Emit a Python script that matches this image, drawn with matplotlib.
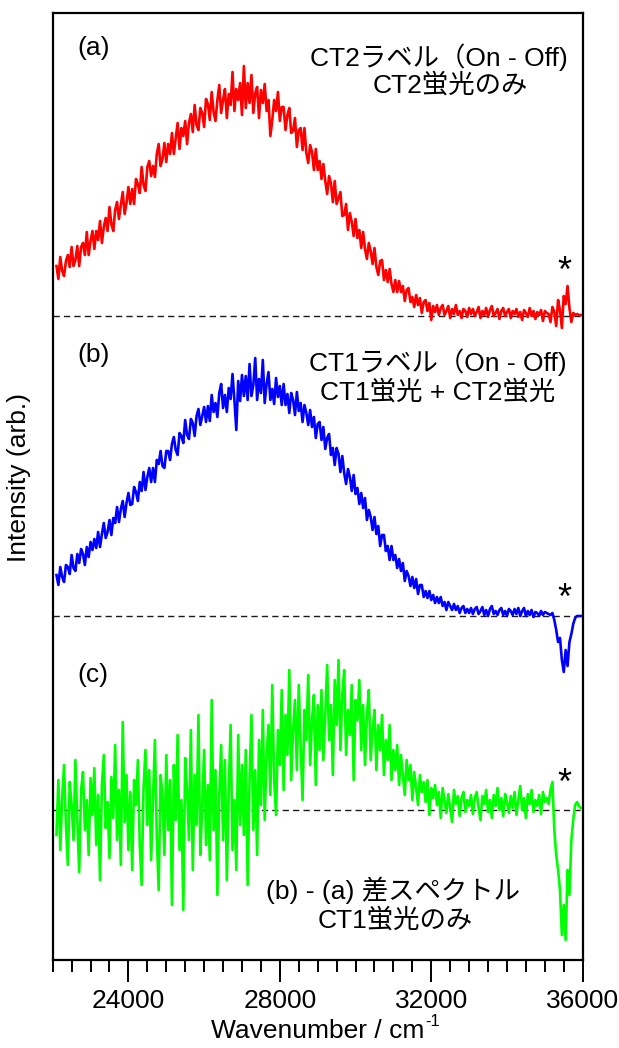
import numpy as np
import matplotlib.pyplot as plt
from matplotlib.ticker import MultipleLocator, NullLocator

plt.rcParams['font.family'] = ['Liberation Sans', 'Noto Sans CJK JP']

# wavenumber grid (cm-1), one reading every 50 cm-1
wn = np.arange(22100, 35951, 50)

# (a) CT2 label On-Off (arb., height above its own baseline)
spec_a = [50, 37, 59, 45, 40, 55, 61, 49, 69, 50, 56, 70, 50, 69, 73, 61, 84, 61, 75, 85,
          67, 85, 76, 95, 73, 89, 98, 85, 109, 92, 85, 106, 114, 97, 111, 124, 102, 113, 129, 112,
          127, 112, 137, 132, 123, 149, 131, 125, 149, 155, 140, 150, 139, 162, 172, 150, 157, 173, 154, 172,
          162, 183, 162, 178, 193, 167, 188, 180, 195, 172, 193, 202, 184, 211, 191, 186, 208, 203, 189, 217,
          212, 196, 224, 204, 195, 216, 231, 203, 216, 227, 198, 222, 211, 244, 205, 227, 216, 233, 201, 250,
          208, 233, 213, 241, 203, 223, 229, 198, 226, 213, 232, 205, 216, 180, 196, 216, 205, 224, 195, 209,
          209, 186, 201, 208, 183, 185, 198, 169, 186, 188, 166, 188, 163, 153, 171, 164, 146, 167, 146, 155,
          137, 152, 135, 122, 140, 133, 114, 135, 112, 118, 124, 100, 101, 112, 86, 103, 94, 80, 97, 78,
          86, 68, 84, 67, 57, 73, 65, 52, 68, 49, 41, 55, 56, 36, 46, 34, 47, 32, 24, 36,
          24, 35, 24, 30, 15, 26, 28, 14, 19, 9, 21, 11, 18, 3, 14, 16, 5, 13, -4, 10,
          4, 11, 1, 8, 11, 1, 5, 10, -2, 7, 2, 11, 1, 5, -2, 7, 5, -1, 8, 2,
          7, 0, 4, 9, -2, 5, 1, 8, -1, 6, 10, 0, 3, 7, -3, 5, 8, 0, 4, 7,
          -2, 5, 2, 7, -1, 4, -4, 6, 3, -1, 8, 0, 5, -3, 4, 1, 6, -5, 5, 3,
          2, -6, 9, 4, -10, 16, 6, -12, 20, 12, 30, 8, -6, 3, 1, 2, 1, 1]

# (b) CT1 label On-Off
spec_b = [41, 31, 49, 39, 34, 51, 49, 42, 61, 48, 45, 62, 53, 67, 62, 51, 69, 59, 74, 66,
          77, 68, 84, 69, 82, 93, 78, 84, 96, 81, 98, 93, 109, 94, 107, 115, 99, 113, 123, 111,
          112, 129, 124, 115, 134, 125, 144, 126, 139, 148, 134, 148, 134, 156, 152, 165, 150, 148, 165, 165,
          156, 172, 179, 166, 161, 183, 180, 173, 196, 181, 177, 197, 193, 180, 200, 207, 191, 200, 209, 194,
          210, 195, 221, 204, 213, 199, 223, 232, 208, 221, 204, 228, 217, 242, 216, 186, 235, 215, 241, 220,
          240, 216, 252, 220, 231, 258, 216, 237, 223, 256, 213, 232, 244, 216, 227, 212, 238, 219, 230, 211,
          232, 211, 222, 203, 223, 216, 201, 224, 205, 213, 194, 211, 203, 191, 206, 189, 199, 178, 192, 194,
          176, 189, 167, 178, 182, 161, 168, 151, 168, 162, 144, 160, 143, 132, 147, 139, 125, 141, 122, 128,
          112, 123, 108, 118, 96, 106, 99, 86, 99, 82, 90, 70, 81, 81, 65, 70, 56, 70, 56, 61,
          48, 57, 45, 53, 35, 45, 40, 30, 39, 28, 37, 22, 31, 31, 19, 25, 18, 25, 16, 21,
          13, 19, 13, 19, 10, 14, 6, 14, 10, 6, 12, 6, 10, 3, 8, 10, 3, 7, 3, 8,
          2, 7, 9, 2, 5, 9, 1, 6, 0, 7, 10, 2, 5, 1, 6, 8, 1, 5, 0, 7,
          5, 1, 7, 2, 8, 0, 5, 8, 0, 5, 1, 6, -1, 4, 3, 0, 5, 1, 4, 3,
          2, 1, 3, -4, -14, -26, -22, -44, -56, -34, -50, -26, -18, -8, -2, 0, 0, 0]

# (c) difference spectrum (b) - (a)
spec_c = [-25, 30, -40, 12, 45, -15, -55, 28, 5, -30, 50, -10, -62, 20, 38, -20, 10, -45, 32, -5,
          42, -35, 15, -70, 25, 55, -18, 8, -48, 33, -8, 65, -30, 20, -55, 88, -12, 35, -40, 18,
          -60, 30, 5, 50, -35, -75, 22, 60, -15, 40, -50, 12, 70, -28, -80, 35, 15, -45, 55, -20,
          30, -95, 45, -10, 75, -40, 10, -100, 52, 20, -30, 80, -60, 35, -15, 95, -45, 5, 60, -35,
          25, -50, 110, -20, 40, -85, 15, 65, -30, 50, -70, 20, 85, -40, 10, -60, 75, -15, 45, -25,
          60, -75, 30, 95, -20, 40, -45, 70, 5, 100, -10, 55, 85, 15, 125, 30, -5, 80, 45, 120,
          20, 95, 55, 140, 30, 80, 110, 40, 125, 65, 10, 100, 70, 135, 45, 90, 115, 25, 105, 60,
          120, 50, 95, 145, 70, 105, 35, 130, 85, 150, 60, 115, 140, 55, 100, 75, 125, 30, 110, 90,
          130, 60, 105, 45, 95, 120, 50, 80, 100, 40, 85, 60, 95, 35, 70, 50, 85, 30, 60, 40,
          65, 25, 55, 35, 15, 50, 30, 45, 10, 38, 22, 5, 35, 18, 28, 8, 30, -5, 22, 12,
          25, 5, 18, -8, 22, 10, -3, 16, 2, -12, 20, 6, 14, -6, 12, 18, -2, 10, 4, 15,
          -4, 12, 18, 2, -10, 14, 6, 20, -2, 10, -8, 15, 4, 22, 0, 12, -6, 16, 8, -3,
          14, 2, 18, -5, 10, 24, 0, 12, -8, 16, 6, 20, -2, 10, 4, 15, -4, 18, 8, 12,
          6, 20, 28, -20, -45, -60, -80, -125, -95, -130, -60, -85, -30, -10, 5, 8, 4, 2]

offsets = [644, 344, 150]
colors = ['#ff0000', '#0000ff', '#00ff00']
panel_labels = ['(a)', '(b)', '(c)']

W, H = 619, 1048
fig = plt.figure(figsize=(W / 100, H / 100), dpi=100)
ax = fig.add_axes([52.7 / W, 1 - 960 / H, 530 / W, 946.7 / H])

for spec, off, c in zip([spec_a, spec_b, spec_c], offsets, colors):
    ax.axhline(off, color='#1a1a1a', lw=1.0, ls=(0, (4.5, 3)), zorder=1)
    ax.plot(wn, np.array(spec) + off, color=c, lw=1.9, zorder=2)

ax.set_xlim(22000, 36000)
ax.set_ylim(0, 946.7)
ax.xaxis.set_major_locator(MultipleLocator(4000))
ax.xaxis.set_minor_locator(MultipleLocator(500))
ax.yaxis.set_major_locator(NullLocator())
ax.tick_params(axis='x', which='major', direction='out', length=16, width=1.4,
               labelsize=19, pad=5)
ax.tick_params(axis='x', which='minor', direction='out', length=8.5, width=1.4)
for s in ax.spines.values():
    s.set_linewidth(1.6)


def px_text(x, y, s, ha='center', size=19, **kw):
    fig.text(x / W, 1 - y / H, s, ha=ha, va='center', fontsize=size, **kw)


# axis titles
px_text(424, 1031, 'Wavenumber / cm', ha='right')
px_text(425, 1021, '-1', ha='left', size=12)
px_text(19, 478, 'Intensity (arb.)', rotation=90)

for lab, y in zip(panel_labels, [48, 355, 675]):
    px_text(77, y, lab, ha='left')

px_text(439, 57, 'CT2ラベル（On - Off)')
px_text(450, 85, 'CT2蛍光のみ')
px_text(438, 362, 'CT1ラベル（On - Off)')
px_text(438, 392, 'CT1蛍光 + CT2蛍光')
px_text(393, 890, '(b) - (a) 差スペクトル')
px_text(395, 920, 'CT1蛍光のみ')

for y in [272, 599, 784]:
    px_text(564, y, '*', size=26)

fig.savefig('out.png', dpi=100)
